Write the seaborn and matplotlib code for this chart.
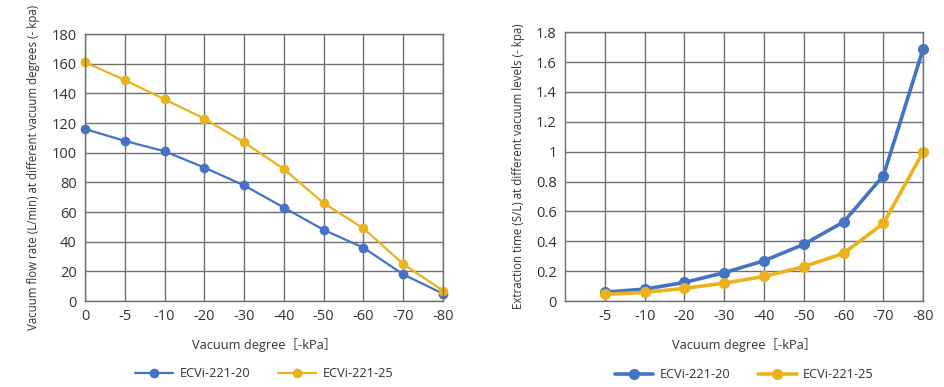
import matplotlib
matplotlib.use("Agg")
import matplotlib.pyplot as plt
import seaborn as sns
import pandas as pd

# ---- data ----
left_categories = ["0", "-5", "-10", "-20", "-30", "-40", "-50", "-60", "-70", "-80"]
left_ecvi_20 = [116, 108, 101, 90, 78, 63, 48, 36, 18, 5]
left_ecvi_25 = [161, 149, 136, 123, 107, 89, 66, 49, 25, 7]

right_categories = ["-5", "-10", "-20", "-30", "-40", "-50", "-60", "-70", "-80"]
right_ecvi_20 = [0.06, 0.08, 0.125, 0.19, 0.27, 0.38, 0.53, 0.84, 1.69]
right_ecvi_25 = [0.045, 0.058, 0.085, 0.12, 0.165, 0.23, 0.32, 0.52, 1.00]

series_names = ["ECVi-221-20", "ECVi-221-25"]
left_yticks = [0, 20, 40, 60, 80, 100, 120, 140, 160, 180]
right_yticks = [0, 0.2, 0.4, 0.6, 0.8, 1.0, 1.2, 1.4, 1.6, 1.8]
right_ytick_labels = ["0", "0.2", "0.4", "0.6", "0.8", "1", "1.2", "1.4", "1.6", "1.8"]

colors = {"ECVi-221-20": "#4472C4", "ECVi-221-25": "#EBB21B"}

sns.set_theme(style="white")
plt.rcParams["font.family"] = ["Open Sans", "Noto Sans CJK SC", "DejaVu Sans"]

fig = plt.figure(figsize=(9.45, 3.87), dpi=100)
ax1 = fig.add_axes([0.0899, 0.222, 0.3789, 0.690])
ax2 = fig.add_axes([0.598, 0.222, 0.379, 0.695])

grid_color = "#707070"
text_color = "#333333"


def make_df(cats, a, b):
    return pd.DataFrame({
        "x": cats * 2,
        "y": a + b,
        "series": [series_names[0]] * len(cats) + [series_names[1]] * len(cats),
    })


df1 = make_df(left_categories, left_ecvi_20, left_ecvi_25)
df2 = make_df(right_categories, right_ecvi_20, right_ecvi_25)

sns.lineplot(data=df1, x="x", y="y", hue="series", palette=colors, sort=False,
             marker="o", markersize=7, markeredgewidth=0, linewidth=1.6, ax=ax1)
sns.lineplot(data=df2, x="x", y="y", hue="series", palette=colors, sort=False,
             marker="o", markersize=8, markeredgewidth=0, linewidth=2.6, ax=ax2)

for ax in (ax1, ax2):
    ax.grid(True, color=grid_color, linewidth=1.0)
    ax.set_axisbelow(True)
    for s in ax.spines.values():
        s.set_color(grid_color)
        s.set_linewidth(1.0)
    ax.tick_params(axis="both", length=0, labelsize=10.5, labelcolor=text_color, pad=6)
    for line in ax.get_lines():
        line.set_clip_on(False)

ax1.set_xlim(0, 9)
ax1.set_ylim(0, 180)
ax1.set_yticks(left_yticks)
ax1.set_ylabel("Vacuum flow rate (L/min) at different vacuum degrees (- kpa)",
               fontsize=8.3, color=text_color, labelpad=8)
ax1.set_xlabel("Vacuum degree［-kPa］", fontsize=9.2, color=text_color, labelpad=10)

ax2.set_xlim(-1, 8)
ax2.set_ylim(0, 1.8)
ax2.set_yticks(right_yticks)
ax2.set_yticklabels(right_ytick_labels)
ax2.set_ylabel("Extraction time (S/L) at different vacuum levels (- kpa)",
               fontsize=8.3, color=text_color, labelpad=8)
ax2.set_xlabel("Vacuum degree［-kPa］", fontsize=9.2, color=text_color, labelpad=10)

for ax in (ax1, ax2):
    leg = ax.legend(loc="center", bbox_to_anchor=(0.5, -0.273), ncol=2,
                    frameon=False, fontsize=9.2, handlelength=3.0,
                    handletextpad=0.5, columnspacing=2.2, borderpad=0.2, title=None)
    for t in leg.get_texts():
        t.set_color(text_color)

fig.savefig("out.png", dpi=100, facecolor="white")
